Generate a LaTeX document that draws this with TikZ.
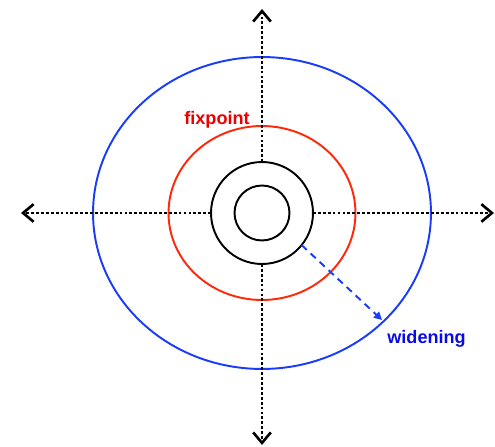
\documentclass[tikz,border=0pt]{standalone}
\usepackage{fontspec}
\setmainfont{Liberation Sans}
\usetikzlibrary{arrows.meta,shapes.geometric}

\definecolor{ringblue}{RGB}{25,60,250}
\definecolor{ringred}{RGB}{255,40,10}
\definecolor{textblue}{RGB}{10,10,230}
\definecolor{textred}{RGB}{235,0,0}

\tikzset{
    axis/.style={line width=1.7pt, dash pattern=on 1.6pt off 1.2pt,
        -{Straight Barb[length=6pt,width=10pt,line width=1.5pt]}},
    ring/.style={draw, line width=1.1pt, inner sep=0pt, outer sep=0pt},
    label/.style={font=\bfseries\fontsize{10.3}{12}\selectfont, inner sep=0pt, anchor=base west}
}

\begin{document}
\begin{tikzpicture}[x=0.02cm, y=0.02cm]
    \useasboundingbox (0,0) rectangle (495,447);
    \coordinate (c) at (262,234);
    \coordinate (top) at (262,438);
    \coordinate (bottom) at (262,2);
    \coordinate (left) at (21,234);
    \coordinate (right) at (494,234);
    % Below nodes are the rings.
        \node[ring, circle, minimum size=1.1cm] (inner) at (c) {};
        \node[ring, circle, minimum size=2.04cm] (outer) at (c) {};
        \node[ring, ellipse, ringred, minimum width=3.74cm, minimum height=3.48cm] (fixring) at (c) {};
        \node[ring, ellipse, ringblue, minimum width=6.76cm, minimum height=6.24cm] (widering) at (c) {};
    % This draws the four dotted axes, from the black ring outwards.
        \draw[axis] (outer.north) -- (top);
        \draw[axis] (outer.south) -- (bottom);
        \draw[axis] (outer.west) -- (left);
        \draw[axis] (outer.east) -- (right);
    % The labels.
        \node[label, textred] (fix) at (184,322) {fixpoint};
        \node[label, textblue] (wide) at (387,103) {widening};
    % This draws the dashed arrow.
        \coordinate (wend) at (382,127);
        \draw[ringblue, line width=1.1pt, dash pattern=on 4pt off 3pt, -{Triangle[length=4.5pt,width=4.5pt]}] (outer.-39) -- (wend);
\end{tikzpicture}
\end{document}
